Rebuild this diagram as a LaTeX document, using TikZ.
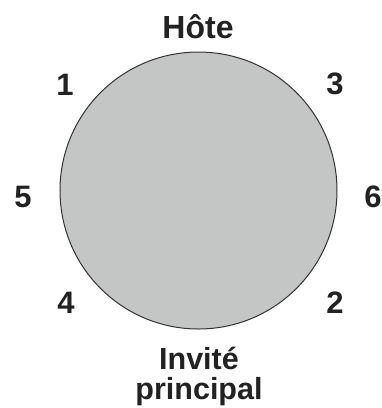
\documentclass[tikz,border=0pt]{standalone}
\usepackage{fontspec}
\setmainfont{Liberation Sans}
\definecolor{txt}{HTML}{222222}
\definecolor{tablefill}{HTML}{C4C6C5}
\definecolor{tableline}{HTML}{333333}
\tikzset{
  seat/.style={inner sep=0pt, anchor=base, text=txt, font=\fontsize{31bp}{29bp}\selectfont\bfseries},
  head/.style={inner sep=0pt, anchor=base, text=txt, font=\fontsize{32bp}{29bp}\selectfont\bfseries},
  guest/.style={inner sep=0pt, anchor=base, text=txt, align=center, font=\fontsize{30.5bp}{30bp}\selectfont\bfseries},
  tablecircle/.style={fill=tablefill, draw=tableline, line width=1bp}
}
\begin{document}
\begin{tikzpicture}[x=1bp,y=-1bp]
\useasboundingbox (0,0) rectangle (382,408);
\draw[tablecircle] (198.5,190.5) circle[radius=138.5bp];
\node[head] (host) at (198,38) {Hôte};
\node[seat] (s1) at (65,95) {1};
\node[seat] (s3) at (335,94.5) {3};
\node[seat] (s5) at (23,207) {5};
\node[seat] (s6) at (373,207) {6};
\node[seat] (s4) at (66,313) {4};
\node[seat] (s2) at (335,313) {2};
\node[guest, anchor=north] (guest) at (199,347) {Invité\\principal};
\end{tikzpicture}
\end{document}
